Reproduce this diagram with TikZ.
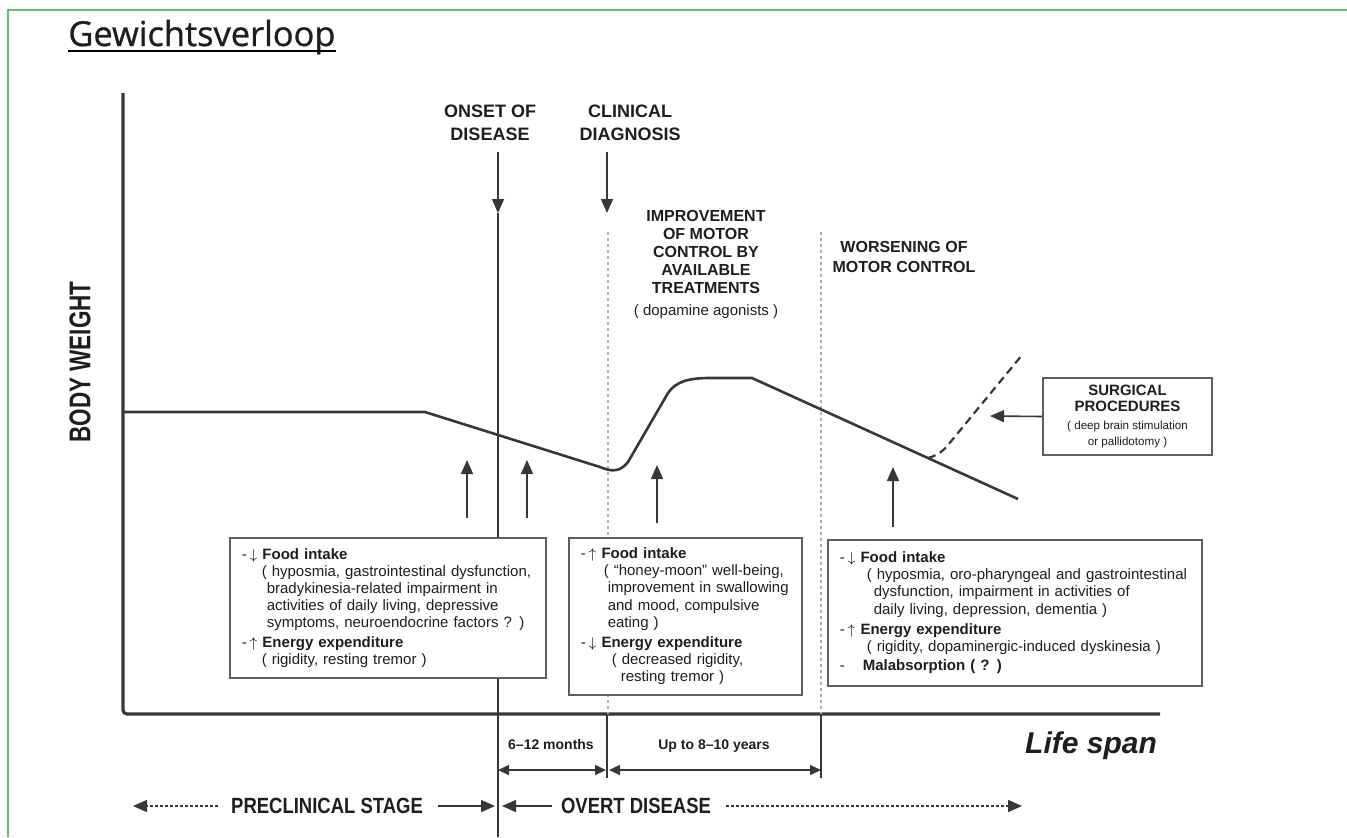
\documentclass[tikz,border=0pt]{standalone}
\usepackage{fontspec}
\setmainfont{Liberation Sans}
\newfontfamily\titlefont[FakeBold=0.9]{Open Sans}
\usetikzlibrary{arrows.meta,positioning}
\definecolor{frame}{RGB}{96,192,108}
\definecolor{ink}{RGB}{30,30,30}
\definecolor{rule}{RGB}{55,55,55}
\definecolor{guide}{RGB}{175,175,175}
\newcommand{\narrow}[2][0.85]{\scalebox{#1}[1]{#2}}

\begin{document}
\begin{tikzpicture}[x=0.5pt,y=-0.5pt,
  tip/.style={-{Triangle[width=6pt,length=7pt]}},
  spantip/.style={{Triangle[width=5pt,length=5.5pt]}-{Triangle[width=5pt,length=5.5pt]}},
  thin line/.style={rule,line width=0.8pt},
  dots line/.style={rule,line width=0.8pt,dash pattern=on 1.5pt off 1pt},
  guide line/.style={guide,line width=0.6pt,dash pattern=on 1.5pt off 1.5pt},
  infobox/.style={draw=rule!80,line width=0.8pt,fill=white,anchor=north west,align=left,
    inner xsep=6pt,font=\fontsize{7.5}{8.6}\selectfont},
  caps/.style={align=center,font=\bfseries\fontsize{9}{11.5}\selectfont},
  phase/.style={align=center,font=\bfseries\fontsize{8}{9}\selectfont}]
\tikzstyle{every node}+=[inner sep=0pt,text=ink]

\useasboundingbox (0,0) rectangle (1347,837);
\draw[frame,line width=1pt] (8,837) -- (8,10) -- (1347,10);

% title
\node[anchor=base west,font=\titlefont\fontsize{17.2}{18}\selectfont] (title) at (68,46) {Gewichtsverloop};
\draw[line width=0.9pt] ([yshift=-2.4pt]title.base west) -- ([yshift=-2.4pt]title.base east);

% axes
\draw[rule,line width=1.6pt,rounded corners=2pt] (123,93) -- (123,714) -- (1160,714);
\node[rotate=90,font=\bfseries\fontsize{15}{15}\selectfont] (weight) at (80,362) {\narrow[0.75]{BODY WEIGHT}};
\node[anchor=base,font=\bfseries\itshape\fontsize{15}{15}\selectfont] (life) at (1091,753) {Life span};

% phase guides
\draw[guide line] (608,232) -- (608,714);
\draw[guide line] (821,232) -- (821,714);
\node[phase] (better) at (706,264) {IMPROVEMENT\\OF MOTOR\\CONTROL BY\\AVAILABLE\\TREATMENTS\\[2pt]
  {\mdseries\fontsize{7.5}{9}\selectfont ( dopamine agonists )}};
\node[phase,font=\bfseries\fontsize{8}{10}\selectfont] (worse) at (904,257) {WORSENING OF\\MOTOR CONTROL};

% onset and diagnosis
\node[caps] (onsetlbl) at (490,123) {ONSET OF\\DISEASE};
\node[caps] (diaglbl) at (630,123) {CLINICAL\\DIAGNOSIS};
\coordinate (onsetfoot) at (498,152);
\coordinate (onsettip) at (498,213);
\coordinate (onsetbase) at (498,837);
\coordinate (diagfoot) at (607,152);
\coordinate (diagtip) at (607,213);
\draw[thin line,tip] (onsetfoot) -- (onsettip);
\draw[thin line] (onsettip) -- (onsetbase);
\draw[thin line,tip] (diagfoot) -- (diagtip);

% body weight course
\draw[rule,line width=1.3pt] (123,412) -- (425,412) -- (600,467)
  .. controls (612,472) and (620,472) .. (628,462) -- (668,393)
  .. controls (676,381) and (690,378) .. (710,378) -- (752,378) -- (1018,499);
\draw[rule,line width=1.1pt,dash pattern=on 4pt off 2.5pt] (928,458)
  .. controls (938,455) and (942,452) .. (948,445) -- (1022,355);

% surgery
\node[draw=rule!80,line width=0.8pt,fill=white,minimum width=84.5pt,minimum height=38.5pt,
  align=center,font=\bfseries\fontsize{7.5}{8}\selectfont] (surgery) at (1127.5,416.5)
  {SURGICAL\\PROCEDURES\\[1pt]{\mdseries\fontsize{5.8}{7.5}\selectfont ( deep brain stimulation}\\
  {\mdseries\fontsize{5.8}{7.5}\selectfont or pallidotomy )}};
\coordinate (surgtip) at (990,416);
\draw[thin line,tip] (surgery.west) -- (surgtip);

% factors acting on the curve
\coordinate (upAfoot) at (467,518);
\coordinate (upAtip) at (467,460);
\coordinate (upBfoot) at (527,518);
\coordinate (upBtip) at (527,460);
\coordinate (upCfoot) at (657,523);
\coordinate (upCtip) at (657,465);
\coordinate (upDfoot) at (893,527);
\coordinate (upDtip) at (893,467);
\draw[thin line,tip] (upAfoot) -- (upAtip);
\draw[thin line,tip] (upBfoot) -- (upBtip);
\draw[thin line,tip] (upCfoot) -- (upCtip);
\draw[thin line,tip] (upDfoot) -- (upDtip);

\node[infobox,text width=146pt,minimum height=70pt] (boxpre) at (229,537) {%
-\,$\downarrow$ \textbf{Food intake}\\
\hspace*{10pt}( hyposmia, gastrointestinal dysfunction,\\
\hspace*{12.5pt}bradykinesia-related impairment in\\
\hspace*{12.5pt}activities of daily living, depressive\\
\hspace*{12.5pt}symptoms, neuroendocrine factors ? )\\[1pt]
-\,$\uparrow$ \textbf{Energy expenditure}\\
\hspace*{10pt}( rigidity, resting tremor )};

\node[infobox,text width=104.5pt,minimum height=78.5pt] (boxearly) at (568,537) {%
-\,$\uparrow$ \textbf{Food intake}\\
\hspace*{11.5pt}( ``honey-moon'' well-being,\\
\hspace*{13.5pt}improvement in swallowing\\
\hspace*{13.5pt}and mood, compulsive\\
\hspace*{13.5pt}eating )\\[1.5pt]
-\,$\downarrow$ \textbf{Energy expenditure}\\
\hspace*{15.5pt}( decreased rigidity,\\
\hspace*{20pt}resting tremor )};

\node[infobox,text width=175pt,minimum height=73pt] (boxlate) at (827,539) {%
-\,$\downarrow$ \textbf{Food intake}\\
\hspace*{13.5pt}( hyposmia, oro-pharyngeal and gastrointestinal\\
\hspace*{17pt}dysfunction, impairment in activities of\\
\hspace*{17pt}daily living, depression, dementia )\\[1.5pt]
-\,$\uparrow$ \textbf{Energy expenditure}\\
\hspace*{13.5pt}( rigidity, dopaminergic-induced dyskinesia )\\[1pt]
-\hspace*{9pt}\textbf{Malabsorption ( ? )}};

% time spans
\coordinate (diagtick) at (607,778);
\coordinate (diagaxis) at (607,714);
\coordinate (worsetick) at (821,778);
\coordinate (worseaxis) at (821,714);
\draw[thin line] (diagaxis) -- (diagtick);
\draw[thin line] (worseaxis) -- (worsetick);
\node[anchor=base,font=\bfseries\fontsize{7}{8}\selectfont] (months) at (551,749) {6--12 months};
\node[anchor=base,font=\bfseries\fontsize{7}{8}\selectfont] (years) at (714,749) {Up to 8--10 years};
\coordinate (spanAleft) at (498,770);
\coordinate (spanAright) at (606,770);
\coordinate (spanBleft) at (609,770);
\coordinate (spanBright) at (821,770);
\draw[thin line,spantip] (spanAleft) -- (spanAright);
\draw[thin line,spantip] (spanBleft) -- (spanBright);

% stages
\node[font=\bfseries\fontsize{11}{11}\selectfont] (pre) at (327,806) {\narrow[0.84]{PRECLINICAL STAGE}};
\node[font=\bfseries\fontsize{11}{11}\selectfont] (overt) at (636,806) {\narrow[0.84]{OVERT DISEASE}};
\coordinate (preleft) at (133,806);
\coordinate (preright) at (495,806);
\coordinate (overtleft) at (502,806);
\coordinate (overtright) at (1022,806);
\draw[dots line,tip] ([xshift=-6.5pt]pre.west) -- (preleft);
\draw[thin line,tip] ([xshift=7.5pt]pre.east) -- (preright);
\draw[thin line,tip] ([xshift=-4.5pt]overt.west) -- (overtleft);
\draw[dots line,tip] ([xshift=7.5pt]overt.east) -- (overtright);
\end{tikzpicture}
\end{document}
